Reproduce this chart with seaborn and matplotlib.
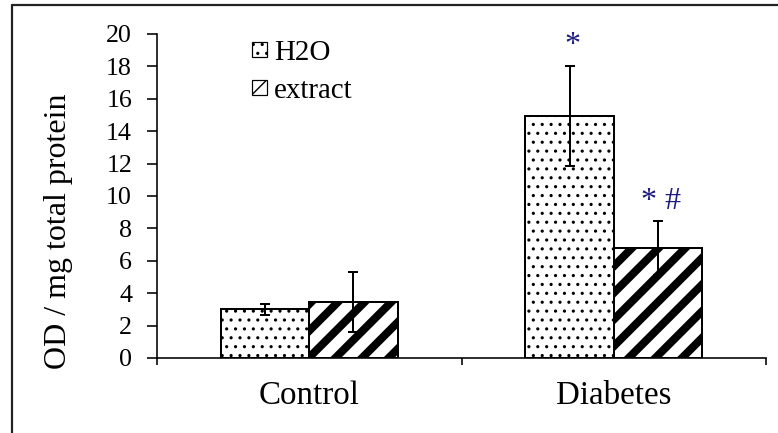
import numpy as np
import pandas as pd
import seaborn as sns
import matplotlib
matplotlib.use("Agg")
import matplotlib.pyplot as plt
from matplotlib.patches import Patch
from matplotlib.lines import Line2D

# ---- data ----
groups = ["Control", "Diabetes"]
treatments = ["H2O", "extract"]
h2o_mean = [3.0, 14.95]
h2o_err = [0.33, 3.1]
extract_mean = [3.45, 6.78]
extract_err = [1.85, 1.66]
h2o_marks = ["", "*"]
extract_marks = ["", "* #"]
y_ticks = [0, 2, 4, 6, 8, 10, 12, 14, 16, 18, 20]
y_label = "OD / mg total protein"

# ---- style ----
W, H = 778, 433
DPI = 160
PX = 72.0 / DPI  # points per pixel

sns.set_theme(style="white")
plt.rcParams["font.family"] = ["Liberation Serif", "DejaVu Serif"]
plt.rcParams["hatch.color"] = "black"
plt.rcParams["hatch.linewidth"] = 1.4 * PX

df = pd.DataFrame({
    "group": groups * 2,
    "treatment": [treatments[0]] * len(groups) + [treatments[1]] * len(groups),
    "value": h2o_mean + extract_mean,
})
errs = {treatments[0]: h2o_err, treatments[1]: extract_err}
marks = {treatments[0]: h2o_marks, treatments[1]: extract_marks}
hatches = {treatments[0]: "...", treatments[1]: "//"}
hatch_lw = {treatments[0]: 1.4 * PX, treatments[1]: 8.0 * PX}

fig = plt.figure(figsize=(W / DPI, H / DPI), dpi=DPI)
ax = fig.add_axes([157 / W, (H - 358) / H, (766 - 157) / W, (358 - 34) / H])

sns.barplot(data=df, x="group", y="value", hue="treatment", order=groups,
            hue_order=treatments, palette=["white", "white"], saturation=1,
            edgecolor="black", linewidth=2.0 * PX, width=0.58, gap=0,
            errorbar=None, dodge=True, legend=False, ax=ax)

annot_color = "#1c1c7c"
for cont, t in zip(ax.containers, treatments):
    for i, bar in enumerate(cont):
        bar.set_hatch(hatches[t])
        if hasattr(bar, "set_hatch_linewidth"):
            bar.set_hatch_linewidth(hatch_lw[t])
        bar.set_zorder(2)
        xc = bar.get_x() + bar.get_width() / 2
        yv = bar.get_height()
        e = errs[t][i]
        ax.errorbar([xc], [yv], yerr=[e], fmt="none", ecolor="black",
                    elinewidth=2.0 * PX, capsize=5 * PX, capthick=2.0 * PX,
                    zorder=3)
        if marks[t][i]:
            ax.text(xc + 0.01, yv + e + 0.75, marks[t][i], ha="center",
                    va="baseline", color=annot_color, fontsize=32 * PX,
                    zorder=4)

# axes
ax.set_xlim(-0.5, 1.5)
ax.set_ylim(0, 20)
ax.set_yticks(y_ticks)
ax.set_yticklabels([str(v) for v in y_ticks])
ax.set_xticks(range(len(groups)))
ax.set_xticklabels(groups)
ax.set_xticks([-0.5, 0.5, 1.5], minor=True)
ax.set_xlabel("")
ax.set_ylabel(y_label, fontsize=32 * PX, color="black")
ax.yaxis.set_label_coords((73 - 157) / 609, (358 - 231) / 324)

for s in ["top", "right"]:
    ax.spines[s].set_visible(False)
for s in ["left", "bottom"]:
    ax.spines[s].set_color("black")
    ax.spines[s].set_linewidth(1.6 * PX)

ax.tick_params(axis="y", which="major", direction="out", length=10 * PX,
               width=1.6 * PX, color="black", pad=15 * PX,
               labelsize=26 * PX, labelcolor="black", left=True)
ax.tick_params(axis="x", which="major", length=0, pad=23 * PX,
               labelsize=33 * PX, labelcolor="black", bottom=True)
ax.tick_params(axis="x", which="minor", direction="out", length=7 * PX,
               width=1.6 * PX, color="black", bottom=True)

# legend
handles = []
for t in treatments:
    p = Patch(facecolor="white", edgecolor="black", hatch=hatches[t],
              linewidth=1.2 * PX, label=t)
    if hasattr(p, "set_hatch_linewidth"):
        p.set_hatch_linewidth(hatch_lw[t] * 0.6)
    handles.append(p)
leg = ax.legend(handles=handles, loc="upper left",
                bbox_to_anchor=((252 - 157) / 609, (358 - 40) / 324),
                frameon=False, fontsize=29 * PX, borderpad=0, borderaxespad=0,
                handlelength=0.5, handleheight=0.42, handletextpad=0.25,
                labelspacing=0.42)
for txt in leg.get_texts():
    txt.set_color("black")

# figure frame (top and left edges visible)
fig.add_artist(Line2D([12 / W, 12 / W], [-0.02, (H - 5) / H],
                      transform=fig.transFigure, color="#222222",
                      linewidth=2.2 * PX))
fig.add_artist(Line2D([12 / W, 1.02], [(H - 5) / H, (H - 5) / H],
                      transform=fig.transFigure, color="#222222",
                      linewidth=2.2 * PX))

fig.savefig("out.png", dpi=DPI, facecolor="white")
